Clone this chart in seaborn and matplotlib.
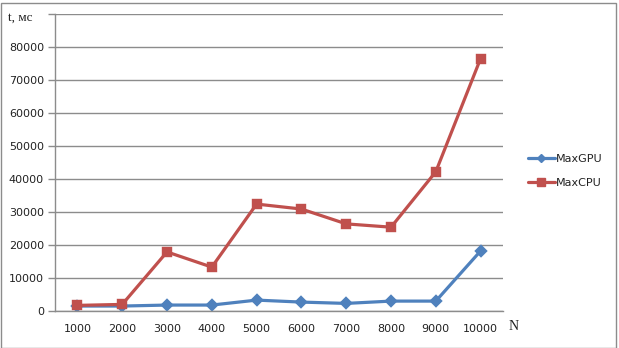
import matplotlib
matplotlib.use("Agg")
import matplotlib.pyplot as plt
import seaborn as sns
import pandas as pd
from matplotlib.lines import Line2D
from matplotlib.patches import Rectangle

categories = ["1000", "2000", "3000", "4000", "5000", "6000", "7000", "8000", "9000", "10000"]
max_gpu = [1500, 1500, 1800, 1800, 3300, 2700, 2300, 3000, 3000, 18200]
max_cpu = [1700, 2000, 17900, 13300, 32400, 30900, 26400, 25400, 42200, 76500]
y_ticks = [0, 10000, 20000, 30000, 40000, 50000, 60000, 70000, 80000]

sns.set_theme(style="white")
plt.rcParams["font.family"] = ["DejaVu Sans"]

df = pd.DataFrame({
    "N": categories * 2,
    "t": max_gpu + max_cpu,
    "series": ["MaxGPU"] * len(categories) + ["MaxCPU"] * len(categories),
})

colors = {"MaxGPU": "#4F81BD", "MaxCPU": "#C0504D"}

fig = plt.figure(figsize=(6.19, 3.48), dpi=100)
ax = fig.add_axes([55 / 619, 1 - 311 / 348, 448 / 619, 297 / 348])

sns.pointplot(data=df, x="N", y="t", hue="series", order=categories,
              hue_order=["MaxGPU", "MaxCPU"], palette=colors,
              markers=["D", "s"], linestyles=["-", "-"], ax=ax,
              linewidth=2.3, markersize=5.5, legend=False)

for ln in ax.lines:
    if ln.get_marker() == "D":
        ln.set_markersize(5)
    elif ln.get_marker() == "s":
        ln.set_markersize(6)

ax.set_xlim(-0.5, len(categories) - 0.5)
ax.set_ylim(0, 90000)
ax.set_yticks(y_ticks + [90000])
ax.set_yticklabels([str(v) for v in y_ticks] + [""])
ax.grid(axis="y", color="#8c8c8c", linewidth=1.0)
ax.grid(axis="x", visible=False)
ax.set_axisbelow(True)
ax.set_xlabel("")
ax.set_ylabel("")

for s in ["top", "right"]:
    ax.spines[s].set_visible(False)
for s in ["left", "bottom"]:
    ax.spines[s].set_color("#8c8c8c")
    ax.spines[s].set_linewidth(1.0)

ax.tick_params(axis="x", which="major", length=0, pad=9, labelsize=8, colors="#222222")
ax.set_xticks([i - 0.5 for i in range(len(categories) + 1)], minor=True)
ax.tick_params(axis="x", which="minor", length=5, color="#8c8c8c", width=1)
ax.tick_params(axis="y", which="major", length=5, color="#8c8c8c", width=1,
               labelsize=8, colors="#222222", pad=3, left=True)

fig.text(8 / 619, 1 - 18 / 348, "t, мс", family="Liberation Serif", fontsize=9.5,
         color="#222222", va="center", ha="left")
fig.text(509 / 619, 1 - 326 / 348, "N", family="Liberation Serif", fontsize=10,
         color="#222222", va="center", ha="left")

handles = [
    Line2D([], [], color="#4F81BD", marker="D", markersize=4.5, linewidth=2.3),
    Line2D([], [], color="#C0504D", marker="s", markersize=5.5, linewidth=2.3),
]
fig.legend(handles, ["MaxGPU", "MaxCPU"], loc="center left",
           bbox_to_anchor=(518 / 619, 1 - 171 / 348), frameon=False,
           fontsize=8, handlelength=2.4, handletextpad=0.15, labelspacing=1.2,
           labelcolor="#222222")

fig.patches.append(Rectangle((0.5 / 619, 0.5 / 348), 615 / 619, 345 / 348,
                             transform=fig.transFigure, fill=False,
                             edgecolor="#8c8c8c", linewidth=1.0))

fig.savefig("out.png", dpi=100)
